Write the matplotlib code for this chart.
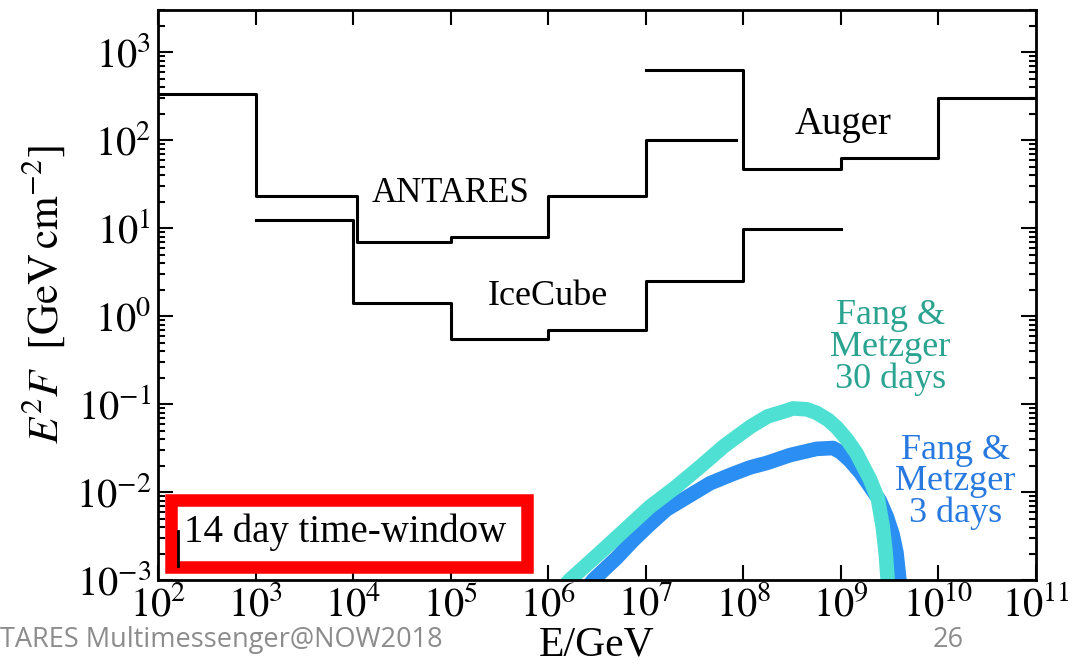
import numpy as np
import matplotlib
matplotlib.use('Agg')
from matplotlib import pyplot as plt
from matplotlib.patches import Rectangle
from matplotlib.ticker import FuncFormatter

plt.rcParams['font.family'] = ['Liberation Serif', 'DejaVu Serif']
plt.rcParams['mathtext.fontset'] = 'stix'

# upper limits (step edges in GeV, values in GeV cm^-2)
antares_E = [1e2, 1e3, 1e3, 1.1e4, 1.1e4, 1e5, 1e5, 1e6, 1e6, 1e7, 1e7, 8.5e7]
antares_F = [330, 330, 23, 23, 6.9, 6.9, 8.0, 8.0, 23, 23, 100, 100]

icecube_E = [1e3, 1e4, 1e4, 1e5, 1e5, 1e6, 1e6, 1e7, 1e7, 1e8, 1e8, 1e9]
icecube_F = [12.3, 12.3, 1.4, 1.4, 0.55, 0.55, 0.70, 0.70, 2.5, 2.5, 9.8, 9.8]

auger_E = [1e7, 1e8, 1e8, 1e9, 1e9, 1e10, 1e10, 1e11]
auger_F = [620, 620, 47, 47, 63, 63, 300, 300]

# model fluxes (log10 E, log10 E^2F)
fm30_logE = [6.10, 6.22, 6.53, 7.04, 7.30, 7.55, 7.80, 8.07, 8.25, 8.40, 8.51, 8.65, 8.75,
             8.87, 8.96, 9.06, 9.16, 9.30, 9.38, 9.43, 9.46, 9.48, 9.50]
fm30_logF = [-3.15, -3.0, -2.69, -2.17, -1.95, -1.72, -1.48, -1.26, -1.14, -1.09, -1.05,
             -1.06, -1.10, -1.18, -1.27, -1.40, -1.56, -1.86, -2.08, -2.40, -2.70, -3.0, -3.2]

fm3_logE = [6.36, 6.46, 6.70, 6.87, 7.03, 7.21, 7.45, 7.66, 7.88, 8.07, 8.24, 8.48, 8.75,
            8.92, 9.00, 9.09, 9.20, 9.30, 9.40, 9.47, 9.53, 9.57, 9.60, 9.62]
fm3_logF = [-3.15, -3.0, -2.75, -2.55, -2.38, -2.20, -2.04, -1.90, -1.80, -1.72, -1.67,
            -1.58, -1.51, -1.50, -1.55, -1.64, -1.78, -1.94, -2.10, -2.28, -2.48, -2.69,
            -3.0, -3.2]

fig = plt.figure(figsize=(10.75, 6.69), dpi=100)
ax = fig.add_axes([0.147, 0.133, 0.8167, 0.852])

ax.plot(antares_E, antares_F, color='black', lw=2.2)
ax.plot(icecube_E, icecube_F, color='black', lw=2.2)
ax.plot(auger_E, auger_F, color='black', lw=2.2)

ax.plot(10**np.array(fm3_logE), 10**np.array(fm3_logF), color='#2b8ef2', lw=10.5,
        solid_capstyle='butt', solid_joinstyle='round')
ax.plot(10**np.array(fm30_logE), 10**np.array(fm30_logF), color='#4ee0d2', lw=10.5,
        solid_capstyle='butt', solid_joinstyle='round')

ax.set_xscale('log')
ax.set_yscale('log')
ax.set_xlim(1e2, 1e11)
ax.set_ylim(1e-3, 3000)
ax.set_xticks([10.0**k for k in range(2, 12)])
ax.set_yticks([10.0**k for k in range(-3, 4)])
pow_fmt = FuncFormatter(lambda v, pos: r'$10^{%d}$' % round(np.log10(v)))
ax.xaxis.set_major_formatter(pow_fmt)
ax.yaxis.set_major_formatter(pow_fmt)

ax.tick_params(which='both', direction='in', top=True, right=True, labelsize=29, width=1.5)
ax.tick_params(which='major', length=11, pad=5)
ax.tick_params(which='minor', length=5)
for s in ax.spines.values():
    s.set_linewidth(2)

ax.set_xlabel('E/GeV', fontsize=30, labelpad=0)
ax.set_ylabel(r'$E^2F\ \ [\mathrm{GeV\,cm^{-2}}]$', fontsize=31, labelpad=6)

ax.text(1e5, 25, 'ANTARES', fontsize=25, ha='center', va='center')
ax.text(1e6, 1.65, 'IceCube', fontsize=26, ha='center', va='center')
ax.text(1.05e9, 150, 'Auger', fontsize=28, ha='center', va='center')
ax.text(3.2e9, 0.44, 'Fang &\nMetzger\n30 days', fontsize=26, color='#2aa391',
        ha='center', va='center', linespacing=0.95)
ax.text(1.5e10, 0.013, 'Fang &\nMetzger\n3 days', fontsize=26, color='#2779e0',
        ha='center', va='center', linespacing=0.95)

# highlighted legend box
ax.add_patch(Rectangle((0.015, 0.022), 0.405, 0.118, transform=ax.transAxes,
                       facecolor='white', edgecolor='#ff0000', lw=9, zorder=5))
ax.plot([0.023, 0.023], [0.025, 0.086], transform=ax.transAxes, color='black',
        lw=2, zorder=6)
ax.text(0.03, 0.083, '14 day time-window', transform=ax.transAxes, fontsize=28,
        va='center', ha='left', zorder=6)

fig.text(0.0, 0.044, 'TARES Multimessenger@NOW2018', fontsize=19.5, color='#8c8c8c',
         family='Open Sans', va='center', ha='left')
fig.text(0.868, 0.044, '26', fontsize=19.5, color='#8c8c8c', family='Open Sans',
         va='center', ha='left')

fig.savefig('out.png', dpi=100)
